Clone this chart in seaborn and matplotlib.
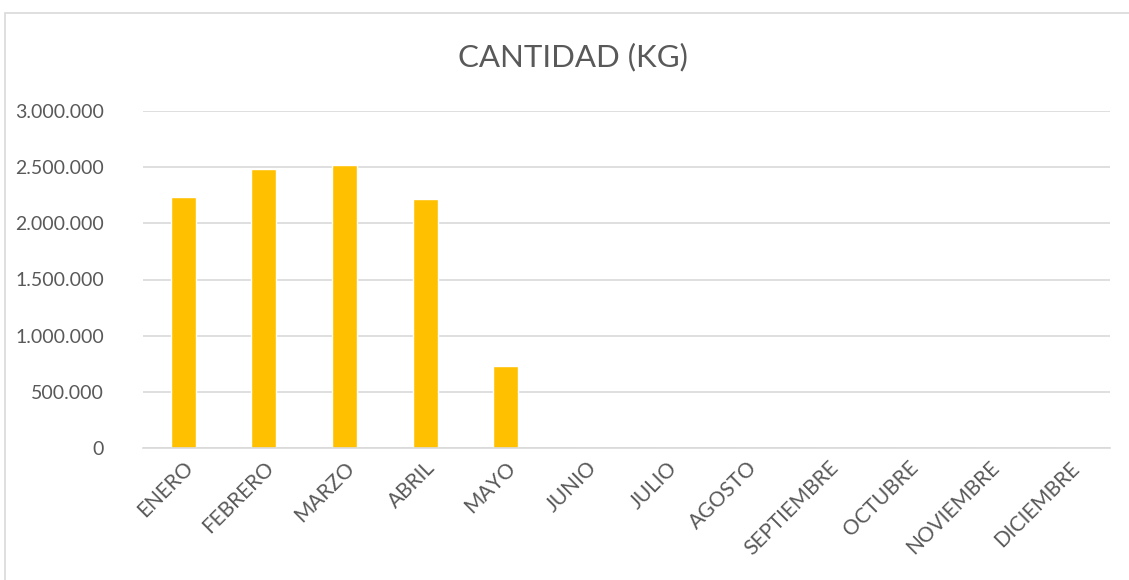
import pandas as pd
import seaborn as sns
import matplotlib.pyplot as plt
from matplotlib.ticker import FuncFormatter, MultipleLocator
from matplotlib.patches import Rectangle

meses = ["ENERO", "FEBRERO", "MARZO", "ABRIL", "MAYO", "JUNIO", "JULIO",
         "AGOSTO", "SEPTIEMBRE", "OCTUBRE", "NOVIEMBRE", "DICIEMBRE"]
cantidad = [2236000, 2488000, 2518000, 2218000, 729000, 0, 0, 0, 0, 0, 0, 0]

df = pd.DataFrame({"mes": meses, "kg": cantidad})

sns.set_style("white")
plt.rcParams['font.family'] = ['Lato', 'DejaVu Sans']
gris = "#595959"

f = plt.figure(figsize=(11.29, 5.80), dpi=100)
ax = f.add_axes([143/1129, 1 - 448/580, (1110 - 143)/1129, (448 - 111)/580])

sns.barplot(data=df, x="mes", y="kg", color="#FFC000", saturation=1,
            width=0.31, ax=ax)

ax.set_ylim(0, 3000000)
ax.yaxis.set_major_locator(MultipleLocator(500000))
ax.yaxis.set_major_formatter(FuncFormatter(lambda v, p: f"{int(v):,}".replace(",", ".")))
ax.grid(axis="y", color="#D9D9D9", linewidth=1.2)
ax.set_axisbelow(True)
ax.set_xlim(-0.5, 11.5)
for s in ["top", "left", "right"]:
    ax.spines[s].set_visible(False)
ax.spines["bottom"].set_color("#D9D9D9")
ax.spines["bottom"].set_linewidth(1.2)
ax.tick_params(axis="both", length=0, colors=gris)
ax.tick_params(axis="y", pad=28, labelsize=14)
ax.tick_params(axis="x", pad=7, labelsize=15)
plt.setp(ax.get_xticklabels(), rotation=45, ha="right", va="top",
         rotation_mode="anchor")
ax.set_xlabel("")
ax.set_ylabel("")

f.text(573/1129, 1 - 57/580, "CANTIDAD (KG)", ha="center", va="center",
       fontsize=22.5, color=gris)

# borde del gráfico
f.patches.append(Rectangle((5/1129, -0.1), 1.2, 1.1 - 13/580, transform=f.transFigure,
                           fill=False, edgecolor="#D9D9D9", linewidth=1.2))

f.savefig("out.png", dpi=100)
